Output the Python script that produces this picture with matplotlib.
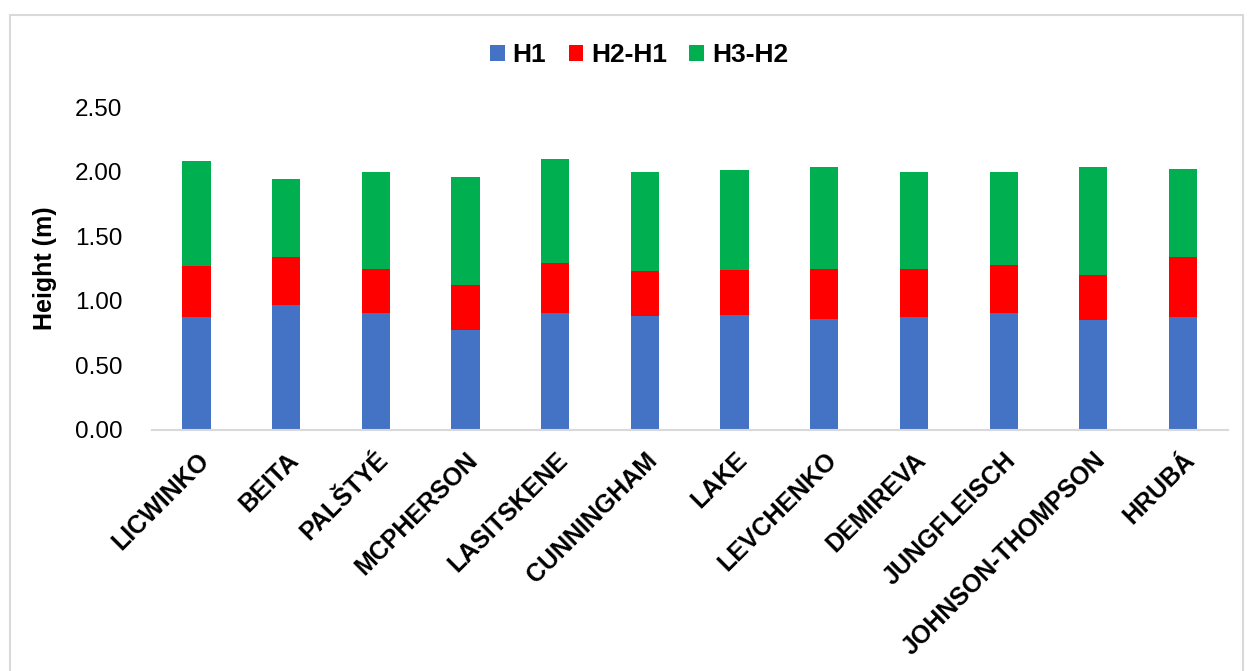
import matplotlib.pyplot as plt
import numpy as np
from matplotlib.patches import Rectangle

plt.rcParams['font.family'] = ['Liberation Sans', 'DejaVu Sans']

athletes = ["LICWINKO", "BEITA", "PALŠTYÉ", "MCPHERSON", "LASITSKENE", "CUNNINGHAM",
            "LAKE", "LEVCHENKO", "DEMIREVA", "JUNGFLEISCH", "JOHNSON-THOMPSON", "HRUBÁ"]
h1 = [0.875, 0.971, 0.909, 0.772, 0.909, 0.881, 0.888, 0.860, 0.873, 0.909, 0.852, 0.873]
h2 = [1.268, 1.336, 1.243, 1.119, 1.294, 1.227, 1.237, 1.245, 1.248, 1.276, 1.196, 1.336]
h3 = [2.083, 1.943, 2.000, 1.959, 2.098, 1.995, 2.011, 2.034, 1.998, 1.998, 2.034, 2.021]

h2_h1 = np.array(h2) - np.array(h1)
h3_h2 = np.array(h3) - np.array(h2)

fig = plt.figure(figsize=(12.53, 6.71), dpi=100)
ax = fig.add_axes([0.1211, 0.3592, 0.8588, 0.4813])

# chart border like excel
fig.patches.append(Rectangle((10 / 1253, -0.01), 1233 / 1253, 1 - 15 / 671 + 0.01,
                             transform=fig.transFigure, fill=False,
                             edgecolor="#d9d9d9", linewidth=1.5))

x = np.arange(len(athletes))
w = 0.315
ax.bar(x, h1, w, color="#4472C4", label="H1")
ax.bar(x, h2_h1, w, bottom=h1, color="#FF0000", label="H2-H1")
ax.bar(x, h3_h2, w, bottom=h2, color="#00B050", label="H3-H2")

ax.set_xlim(-0.5, len(athletes) - 0.5)
ax.set_ylim(0, 2.5)
ax.set_yticks(np.arange(0, 2.51, 0.5))
ax.set_yticklabels(["%.2f" % v for v in np.arange(0, 2.51, 0.5)], fontsize=17.5)
ax.set_xticks(x)
ax.set_xticklabels(athletes, rotation=45, ha="right", rotation_mode="anchor",
                   fontsize=18, fontweight="bold")
ax.tick_params(axis="both", length=0)
ax.tick_params(axis="y", pad=21)
ax.tick_params(axis="x", pad=13)
for s in ["top", "right", "left"]:
    ax.spines[s].set_visible(False)
ax.spines["bottom"].set_color("#d9d9d9")
ax.spines["bottom"].set_linewidth(1.5)

fig.text(45 / 1253, 1 - 268 / 671, "Height (m)", rotation=90, ha="center", va="center",
         fontsize=18, fontweight="bold")

fig.legend(loc="center", bbox_to_anchor=(0.51, 0.918), ncol=3, frameon=False,
           prop={"size": 19, "weight": "bold"}, handlelength=0.55, handleheight=0.55,
           handletextpad=0.3, columnspacing=0.85)

fig.savefig("out.png", dpi=100)
